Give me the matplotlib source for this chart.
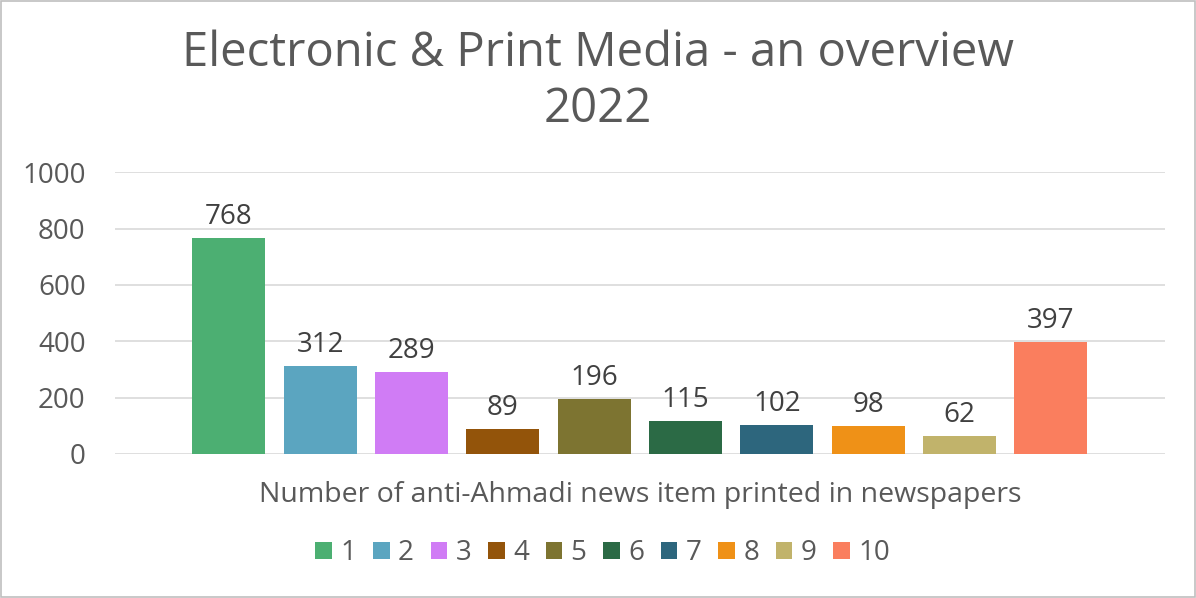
import matplotlib.pyplot as plt
import numpy as np

series = ['1', '2', '3', '4', '5', '6', '7', '8', '9', '10']
values = [768, 312, 289, 89, 196, 115, 102, 98, 62, 397]
colors = ['#4CAF72', '#5BA5C0', '#D07CF5', '#93540A', '#7D7431',
          '#2B6A45', '#2D667D', '#EF9117', '#C1B36B', '#FA7E5E']
category = 'Number of anti-Ahmadi news item printed in newspapers'
title = 'Electronic & Print Media - an overview\n2022'

plt.rcParams['font.family'] = ['Open Sans', 'DejaVu Sans']
txt = '#595959'

fig = plt.figure(figsize=(11.96, 5.98), dpi=100)
ax = fig.add_axes([0.096, 0.241, 0.878, 0.471])

x = np.arange(len(values))
for i in range(len(values)):
    ax.bar(x[i], values[i], width=0.8, color=colors[i], label=series[i], zorder=3)
    ax.text(x[i], values[i] + 25, str(values[i]), ha='center', va='bottom',
            fontsize=20, color='#404040')

ax.set_xlim(-1.25, 10.25)
ax.set_ylim(0, 1000)
ax.set_yticks(range(0, 1001, 200))
ax.tick_params(axis='y', labelsize=20, labelcolor=txt, length=0, pad=21)
ax.set_xticks([])
ax.grid(axis='y', color='#D9D9D9', linewidth=1.2, zorder=0)
for s in ax.spines.values():
    s.set_visible(False)

fig.text(0.5, 0.864, title, ha='center', va='center', fontsize=34,
         color=txt, linespacing=1.22)
fig.text(0.535, 0.172, category, ha='center', va='center', fontsize=20.5, color=txt)

fig.legend(loc='center', bbox_to_anchor=(0.504, 0.075), ncol=10, frameon=False,
           fontsize=20, labelcolor=txt, handlelength=0.6, handleheight=0.6,
           handletextpad=0.3, columnspacing=0.6)

fig.patches.append(plt.Rectangle((0.001, 0.001), 0.998, 0.997, transform=fig.transFigure,
                                 fill=False, edgecolor='#BFBFBF', linewidth=1.2))

plt.savefig('out.png', dpi=100)
